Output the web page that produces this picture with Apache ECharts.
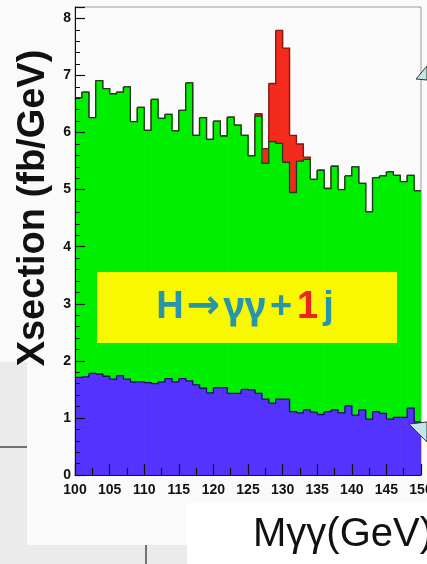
<!DOCTYPE html>
<html><head><meta charset="utf-8">
<script src="https://cdn.jsdelivr.net/npm/echarts@6/dist/echarts.min.js"></script>
<style>html,body{margin:0;padding:0;background:#fafafa}#c{width:427px;height:564px}</style>
</head><body><div id="c"></div>
<script>
// Bin edges (GeV)
const binEdges = [100,101,102,103,104,105,106,107,108,109,110,111,112,113,114,115,116,117,118,119,
  120,121,122,123,124,125,126,127,128,129,130,131,132,133,134,135,136,137,138,139,
  140,141,142,143,144,145,146,147,148,149,150];
// Total background (green)
const bkgTotal = [6.61,6.71,6.26,6.91,6.77,6.68,6.71,6.80,6.19,6.44,
  6.04,6.58,6.25,6.32,6.03,6.39,6.87,5.95,6.26,5.88,
  6.20,5.94,6.27,6.13,5.95,5.59,6.29,5.46,5.84,5.81,
  5.48,4.95,5.50,5.53,5.18,5.34,5.02,5.41,5.00,5.24,
  5.40,5.11,4.61,5.21,5.24,5.31,5.25,5.14,5.25,4.98];
// Background component (blue)
const bkgComponent = [1.71,1.72,1.78,1.77,1.73,1.68,1.74,1.68,1.63,1.63,
  1.62,1.60,1.63,1.69,1.63,1.69,1.65,1.58,1.52,1.44,
  1.53,1.53,1.43,1.43,1.50,1.49,1.43,1.33,1.26,1.33,
  1.33,1.11,1.09,1.14,1.10,1.06,1.11,1.14,1.09,1.21,
  1.05,1.14,0.98,1.11,1.08,0.98,1.01,1.01,1.17,0.93];
// Signal + background (red), only where it differs
const sigTotal = [null,null,null,null,null,null,null,null,null,null,
  null,null,null,null,null,null,null,null,null,null,
  null,null,null,null,null,null,6.33,5.72,6.86,7.79,
  7.48,5.95,5.80,5.57,null,null,null,null,null,null,
  null,null,null,null,null,null,null,null,null,null];
const xTickLabels = [100,105,110,115,120,125,130,135,140,145,150];
const yTickLabels = [0,1,2,3,4,5,6,7,8];

const redFull = sigTotal.map((v,i)=> v==null ? bkgTotal[i] : v);

function fillData(vals){
  const out=[];
  vals.forEach((v,i)=>{ if(v!=null) out.push([binEdges[i], binEdges[i+1], v]); });
  return out;
}
function lineData(vals){
  return vals.map((v,i)=>[binEdges[i], binEdges[i+1], v, i<vals.length-1 ? vals[i+1] : v]);
}
function fillSeries(vals, color, z){
  return {type:'custom', z:z, clip:true, silent:true, data:fillData(vals), encode:{x:[0,1], y:2},
    renderItem:function(params, api){
      const p0=api.coord([api.value(0),0]), p1=api.coord([api.value(1), api.value(2)]);
      return {type:'rect', shape:{x:p0[0], y:p1[1], width:p1[0]-p0[0]+0.6, height:p0[1]-p1[1]},
        style:{fill:color}};
    }};
}
function lineSeries(vals, color, z){
  return {type:'custom', z:z, clip:true, silent:true, data:lineData(vals), encode:{x:[0,1], y:[2,3]},
    renderItem:function(params, api){
      const a=api.coord([api.value(0), api.value(2)]);
      const b=api.coord([api.value(1), api.value(2)]);
      const c=api.coord([api.value(1), api.value(3)]);
      return {type:'polyline', shape:{points:[a,b,c]},
        style:{stroke:color, lineWidth:1.3, fill:null}};
    }};
}

const chart = echarts.init(document.getElementById('c'), null, {renderer:'canvas'});
const teal = '#2795aa';
chart.setOption({
  backgroundColor:'#fafafa',
  animation:false,
  grid:{left:75, right:6, top:7, bottom:89, show:true, borderColor:'#9a9a9a', borderWidth:1,
    backgroundColor:'transparent', containLabel:false, outerBoundsMode:'none'},
  xAxis:{type:'value', min:100, max:150, interval:5, z:10,
    axisLine:{show:true, onZero:false, lineStyle:{color:'#111', width:1}},
    axisTick:{show:true, inside:true, length:11, lineStyle:{color:'#111', width:1.2}},
    minorTick:{show:true, splitNumber:2, length:7, lineStyle:{color:'#111', width:1.2}},
    splitLine:{show:false},
    axisLabel:{show:true, color:'#111', fontWeight:'bold', fontSize:14, fontFamily:'Liberation Sans', margin:8,
      hideOverlap:false,
      formatter:function(v){ return xTickLabels.indexOf(v)>=0 ? String(v) : ''; }}
  },
  yAxis:[{type:'value', min:0, max:8.2, interval:1, z:10,
    axisLine:{show:true, lineStyle:{color:'#111', width:1}},
    axisTick:{show:true, inside:true, length:10, lineStyle:{color:'#111', width:1.2}},
    splitLine:{show:false},
    axisLabel:{show:true, color:'#111', fontWeight:'bold', fontSize:14, fontFamily:'Liberation Sans', margin:4,
      formatter:function(v){ return yTickLabels.indexOf(v)>=0 ? String(v) : ''; }}
  },{type:'value', min:0, max:8.2, interval:0.2, position:'left', z:10,
    axisLine:{show:false}, axisLabel:{show:false}, splitLine:{show:false},
    axisTick:{show:true, inside:true, length:5, lineStyle:{color:'#111', width:1}}
  }],
  series:[
    fillSeries(sigTotal, '#f42a1c', 2),
    lineSeries(redFull, '#7a1a10', 3),
    fillSeries(bkgTotal, '#00ee00', 4),
    lineSeries(bkgTotal, '#1f3a1f', 5),
    fillSeries(bkgComponent, '#5533ff', 6),
    lineSeries(bkgComponent, '#1a1060', 7)
  ],
  graphic:[
    {type:'rect', z:-5, shape:{x:0, y:362, width:27, height:202}, style:{fill:'#ebebeb'}},
    {type:'rect', z:-5, shape:{x:0, y:545, width:187, height:19}, style:{fill:'#ebebeb'}},
    {type:'rect', z:-5, shape:{x:187, y:503, width:240, height:61}, style:{fill:'#ffffff'}},
    {type:'line', z:-4, shape:{x1:0, y1:447, x2:27, y2:447}, style:{stroke:'#222', lineWidth:1.2}},
    {type:'line', z:-4, shape:{x1:146, y1:545, x2:146, y2:564}, style:{stroke:'#222', lineWidth:1.2}},
    {type:'rect', z:20, shape:{x:97, y:272, width:300, height:71}, style:{fill:'#f8f800'}},
    {type:'text', z:21, x:245, y:308, style:{
      text:'{a|H}{r|→}{g|γγ}{a|+}{b|1}{a|j}', align:'center', verticalAlign:'middle',
      rich:{a:{fill:teal, font:'bold 38px Liberation Sans', padding:[0,2]},
            r:{fill:teal, font:'bold 40px DejaVu Sans', padding:[0,1]},
            g:{fill:teal, font:'bold 38px Noto Sans', padding:[0,2]},
            b:{fill:'#ee2222', font:'bold 38px Liberation Sans', padding:[0,3]}}
    }},
    {type:'text', z:21, x:34, y:208, rotation:Math.PI/2, style:{
      text:'Xsection (fb/GeV)', align:'center', verticalAlign:'middle', fill:'#111',
      font:'bold 38px Liberation Sans'}},
    {type:'text', z:21, x:253, y:535, style:{
      text:'Mγγ(GeV)', align:'left', verticalAlign:'middle', fill:'#111',
      font:'40px Liberation Sans'}},
    {type:'polygon', z:21, shape:{points:[[416,79],[427,66],[427,80]]}, style:{fill:'#c4e4ea', stroke:'#333', lineWidth:1}},
    {type:'polygon', z:21, shape:{points:[[409,424],[427,422],[427,442]]}, style:{fill:'#c4e4ea', stroke:'#333', lineWidth:1}}
  ]
});
</script>
</body></html>
